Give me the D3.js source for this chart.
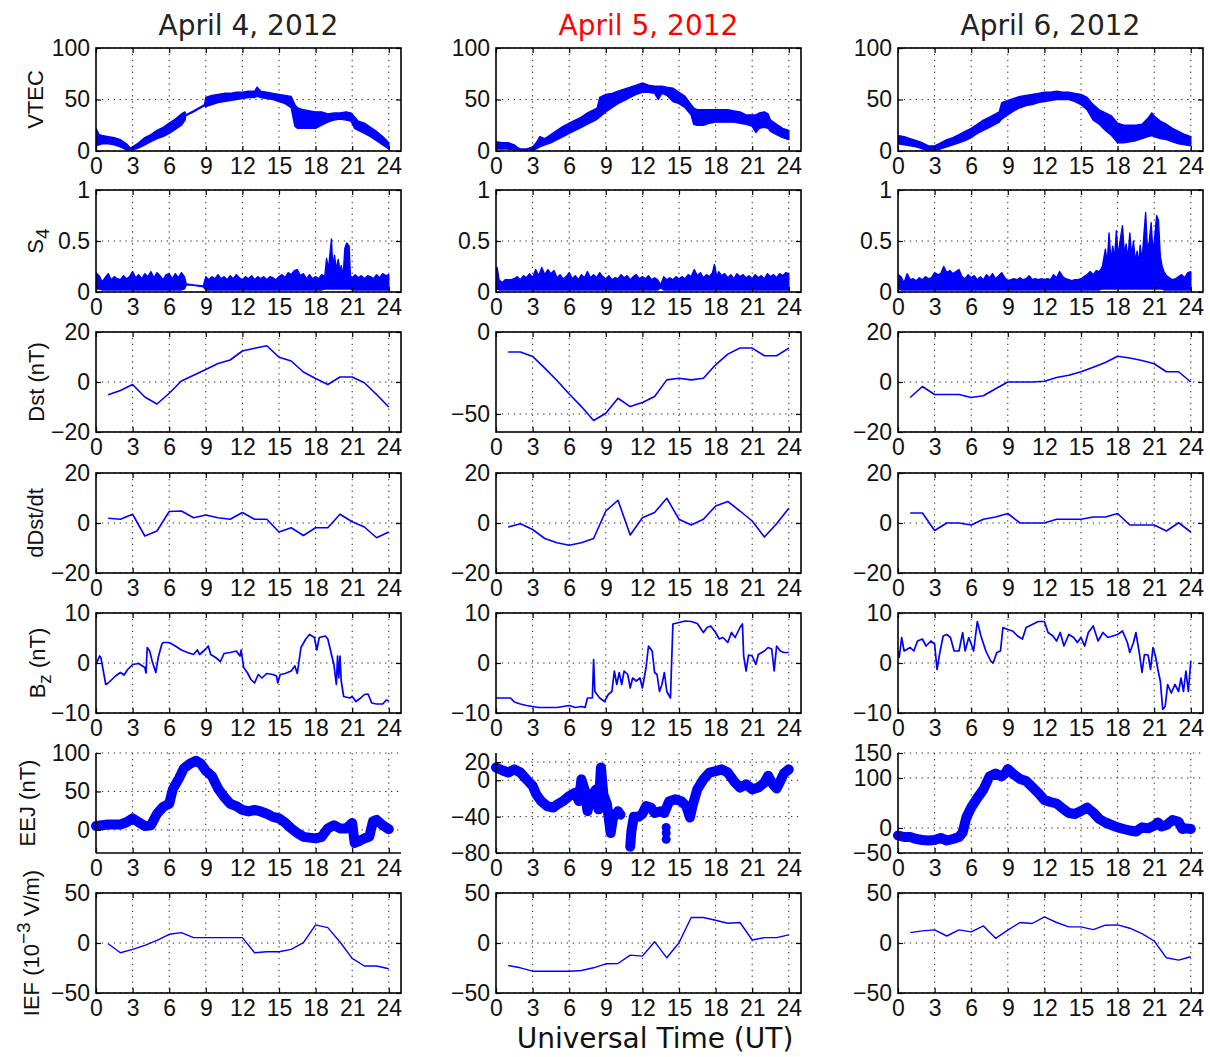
<!DOCTYPE html>
<html><head><meta charset="utf-8">
<script src="https://cdn.jsdelivr.net/npm/d3@7"></script>
<style>body{margin:0;background:#fff}</style>
</head><body>
<svg id="chart" width="1210" height="1057"></svg>
<script>
// ---------- DATA ----------
const days = ["April 4, 2012", "April 5, 2012", "April 6, 2012"];
const dayColors = ["#222222", "#ff0000", "#222222"];
const hourTicks = [0, 3, 6, 9, 12, 15, 18, 21, 24];
const hourly = [1,2,3,4,5,6,7,8,9,10,11,12,13,14,15,16,17,18,19,20,21,22,23,24];

// VTEC band: [UT, low, high]
const vtec4 = [[0,5,22],[0.25,6,16],[0.5,7,15],[1,7,14],[1.5,6,13],[2,4,11],[2.5,1,7],[2.8,0,3],[3,1,4],[3.5,3,8],[4,6,13],[4.5,9,16],[5,12,20],[5.5,14,23],[6,17,27],[6.5,21,31],[7,25,36],[7.3,30,38],[7.35,34,35],[8,38,39],[8.9,44,45],[9,43,52],[9.5,45,54],[10,47,55],[10.5,48,56],[11,49,56],[11.5,50,57],[12,51,57],[12.5,52,58],[13,52,58],[13.2,53,62],[13.5,52,58],[14,51,57],[14.5,50,56],[15,48,55],[15.5,46,54],[16,42,53],[16.3,24,45],[16.5,22,42],[17,22,40],[17.5,22,39],[18,22,38],[18.5,25,38],[19,28,36],[19.5,30,37],[20,31,37],[20.5,30,38],[20.9,29,37],[21.2,22,33],[21.5,20,29],[22,17,27],[22.5,14,23],[23,10,19],[23.5,6,14],[24,2,8]];
const vtec5 = [[0,2,9],[0.5,2,8],[1,2,8],[1.5,1,6],[1.8,0,3],[2,0,2],[2.5,0,2],[3,0,4],[3.3,2,8],[3.6,4,14],[4,6,12],[4.5,8,16],[5,11,20],[5.5,14,24],[6,17,27],[6.5,20,30],[7,23,33],[7.5,26,37],[8,29,40],[8.3,31,42],[8.5,33,52],[9,38,55],[9.5,42,56],[10,46,58],[10.5,49,60],[11,52,62],[11.5,55,64],[12,57,66],[12.5,57,64],[13,56,63],[13.3,50,63],[13.6,56,63],[14,54,62],[14.5,48,61],[15,46,57],[15.5,42,53],[16,35,45],[16.2,26,42],[16.5,25,40],[17,25,40],[17.5,27,40],[18,28,40],[18.5,28,40],[19,28,40],[19.5,28,39],[20,27,38],[20.5,26,35],[21,24,35],[21.3,18,35],[21.6,22,37],[22,23,38],[22.3,22,36],[22.5,19,30],[23,16,26],[23.5,13,22],[24,11,20]];
const vtec6 = [[0,7,15],[0.5,6,14],[1,5,12],[1.5,4,10],[2,2,8],[2.5,0,5],[3,0,5],[3.5,2,8],[4,4,11],[4.5,6,13],[5,8,16],[5.5,10,19],[6,13,22],[6.5,17,26],[7,20,30],[7.5,23,33],[8,26,36],[8.3,28,38],[8.5,31,47],[9,35,49],[9.5,39,51],[10,42,53],[10.5,44,54],[11,45,55],[11.5,47,56],[12,48,57],[12.5,49,57],[13,50,58],[13.5,50,57],[14,50,57],[14.5,48,56],[15,45,55],[15.5,40,52],[16,30,45],[16.5,26,40],[17,20,37],[17.5,15,34],[18,8,27],[18.5,8,25],[19,9,25],[19.5,10,25],[20,12,26],[20.5,14,32],[20.8,15,37],[21,14,34],[21.5,12,29],[22,11,26],[22.5,9,22],[23,7,19],[23.5,6,16],[24,5,14]];

// S4 band: [UT, low, high]
const s4_4 = [[0,0.03,0.19],[0.25,0.03,0.16],[0.5,0.02,0.10],[0.75,0.02,0.14],[1,0.02,0.18],[1.25,0.02,0.12],[1.5,0.02,0.15],[1.75,0.02,0.13],[2,0.02,0.12],[2.25,0.02,0.16],[2.5,0.02,0.13],[2.75,0.02,0.15],[3,0.02,0.20],[3.25,0.02,0.14],[3.5,0.02,0.17],[3.75,0.02,0.13],[4,0.02,0.18],[4.25,0.02,0.15],[4.5,0.02,0.20],[4.75,0.02,0.14],[5,0.02,0.19],[5.25,0.02,0.16],[5.5,0.02,0.12],[5.75,0.02,0.17],[6,0.02,0.18],[6.25,0.02,0.13],[6.5,0.02,0.18],[6.75,0.02,0.14],[7,0.02,0.19],[7.25,0.03,0.15],[7.4,0.07,0.08],[8,0.065,0.07],[8.8,0.05,0.06],[9,0.02,0.15],[9.25,0.02,0.12],[9.5,0.02,0.15],[9.75,0.02,0.13],[10,0.02,0.17],[10.25,0.02,0.13],[10.5,0.02,0.15],[10.75,0.02,0.12],[11,0.02,0.16],[11.25,0.02,0.13],[11.5,0.02,0.17],[11.75,0.02,0.14],[12,0.02,0.12],[12.25,0.02,0.15],[12.5,0.02,0.13],[12.75,0.02,0.16],[13,0.02,0.12],[13.25,0.02,0.15],[13.5,0.02,0.13],[13.75,0.02,0.15],[14,0.02,0.12],[14.25,0.02,0.15],[14.5,0.02,0.14],[14.75,0.02,0.12],[15,0.02,0.15],[15.25,0.02,0.17],[15.5,0.02,0.14],[15.75,0.02,0.19],[16,0.02,0.17],[16.25,0.02,0.21],[16.5,0.02,0.22],[16.75,0.02,0.16],[17,0.02,0.18],[17.25,0.02,0.13],[17.5,0.02,0.17],[17.75,0.02,0.13],[18,0.02,0.15],[18.25,0.02,0.13],[18.5,0.02,0.17],[18.75,0.03,0.15],[18.9,0.03,0.33],[19.05,0.03,0.22],[19.3,0.03,0.52],[19.4,0.03,0.25],[19.55,0.03,0.36],[19.7,0.03,0.22],[19.85,0.03,0.32],[20,0.03,0.20],[20.1,0.03,0.26],[20.25,0.03,0.15],[20.4,0.03,0.43],[20.55,0.03,0.48],[20.75,0.03,0.45],[20.85,0.03,0.16],[21,0.02,0.14],[21.25,0.02,0.17],[21.5,0.02,0.14],[21.75,0.02,0.16],[22,0.02,0.13],[22.25,0.02,0.16],[22.5,0.02,0.15],[22.75,0.02,0.13],[23,0.02,0.17],[23.25,0.02,0.14],[23.5,0.02,0.18],[23.75,0.02,0.16],[24,0.02,0.17]];
const s4_5 = [[0,0.03,0.22],[0.1,0.03,0.24],[0.25,0.02,0.12],[0.5,0.02,0.09],[0.75,0.02,0.12],[1,0.02,0.12],[1.25,0.02,0.12],[1.5,0.02,0.13],[1.75,0.02,0.15],[2,0.02,0.12],[2.25,0.02,0.16],[2.5,0.02,0.14],[2.75,0.02,0.18],[3,0.02,0.14],[3.25,0.02,0.22],[3.5,0.02,0.16],[3.75,0.02,0.24],[4,0.02,0.17],[4.25,0.02,0.22],[4.5,0.02,0.18],[4.75,0.02,0.21],[5,0.02,0.14],[5.25,0.02,0.17],[5.5,0.02,0.13],[5.75,0.02,0.15],[6,0.02,0.19],[6.25,0.02,0.13],[6.5,0.02,0.16],[6.75,0.02,0.12],[7,0.02,0.17],[7.25,0.02,0.14],[7.5,0.02,0.20],[7.75,0.02,0.14],[8,0.02,0.17],[8.25,0.02,0.14],[8.5,0.02,0.19],[8.75,0.02,0.15],[9,0.02,0.13],[9.25,0.02,0.16],[9.5,0.02,0.12],[9.75,0.02,0.14],[10,0.02,0.13],[10.25,0.02,0.17],[10.5,0.02,0.14],[10.75,0.02,0.16],[11,0.02,0.12],[11.25,0.02,0.15],[11.5,0.02,0.17],[11.75,0.02,0.13],[12,0.02,0.15],[12.25,0.02,0.13],[12.5,0.02,0.16],[12.75,0.02,0.12],[13,0.02,0.14],[13.25,0.02,0.12],[13.5,0.04,0.07],[13.75,0.02,0.15],[14,0.02,0.12],[14.25,0.02,0.14],[14.5,0.02,0.12],[14.75,0.02,0.15],[15,0.02,0.13],[15.25,0.02,0.15],[15.5,0.02,0.13],[15.75,0.02,0.17],[16,0.02,0.15],[16.25,0.02,0.22],[16.5,0.02,0.16],[16.75,0.02,0.19],[17,0.02,0.14],[17.25,0.02,0.17],[17.5,0.02,0.15],[17.75,0.02,0.19],[17.9,0.02,0.27],[18.1,0.02,0.15],[18.25,0.02,0.20],[18.5,0.02,0.16],[18.75,0.02,0.18],[19,0.02,0.14],[19.25,0.02,0.17],[19.5,0.02,0.13],[19.75,0.02,0.18],[20,0.02,0.15],[20.25,0.02,0.17],[20.5,0.02,0.14],[20.75,0.02,0.16],[21,0.02,0.13],[21.25,0.02,0.17],[21.5,0.02,0.14],[21.75,0.02,0.16],[22,0.02,0.13],[22.25,0.02,0.18],[22.5,0.02,0.15],[22.75,0.02,0.17],[23,0.02,0.14],[23.25,0.02,0.18],[23.5,0.02,0.16],[23.75,0.02,0.19],[24,0.02,0.18]];
const s4_6 = [[0,0.03,0.17],[0.25,0.02,0.15],[0.5,0.02,0.09],[0.75,0.02,0.18],[1,0.02,0.12],[1.25,0.02,0.13],[1.5,0.02,0.11],[1.75,0.02,0.14],[2,0.02,0.12],[2.25,0.02,0.15],[2.5,0.02,0.13],[2.75,0.02,0.14],[3,0.02,0.19],[3.25,0.02,0.17],[3.5,0.02,0.18],[3.75,0.02,0.25],[4,0.02,0.19],[4.25,0.02,0.21],[4.5,0.02,0.18],[4.75,0.02,0.20],[5,0.02,0.22],[5.25,0.02,0.15],[5.5,0.02,0.13],[5.75,0.02,0.17],[6,0.02,0.14],[6.25,0.02,0.16],[6.5,0.02,0.12],[6.75,0.02,0.15],[7,0.02,0.12],[7.25,0.02,0.17],[7.5,0.02,0.14],[7.75,0.02,0.18],[8,0.02,0.13],[8.25,0.02,0.16],[8.5,0.02,0.19],[8.75,0.02,0.14],[9,0.02,0.11],[9.25,0.02,0.12],[9.5,0.02,0.13],[9.75,0.02,0.12],[10,0.02,0.14],[10.25,0.02,0.12],[10.5,0.02,0.13],[10.75,0.02,0.16],[11,0.02,0.12],[11.25,0.02,0.13],[11.5,0.02,0.12],[11.75,0.02,0.13],[12,0.02,0.12],[12.25,0.02,0.13],[12.5,0.02,0.12],[12.75,0.02,0.17],[13,0.02,0.14],[13.25,0.02,0.20],[13.5,0.02,0.15],[13.75,0.02,0.13],[14,0.02,0.12],[14.25,0.02,0.11],[14.5,0.02,0.12],[14.75,0.02,0.12],[15,0.02,0.13],[15.25,0.02,0.15],[15.5,0.02,0.17],[15.75,0.02,0.20],[16,0.02,0.17],[16.25,0.02,0.21],[16.5,0.02,0.20],[16.75,0.03,0.25],[17,0.03,0.42],[17.15,0.03,0.28],[17.3,0.03,0.58],[17.45,0.03,0.30],[17.6,0.03,0.45],[17.75,0.03,0.33],[17.9,0.03,0.60],[18.05,0.03,0.35],[18.2,0.03,0.50],[18.4,0.03,0.65],[18.55,0.03,0.38],[18.7,0.03,0.47],[18.85,0.03,0.32],[19,0.03,0.58],[19.15,0.03,0.35],[19.3,0.03,0.50],[19.45,0.03,0.30],[19.6,0.03,0.40],[19.75,0.03,0.28],[19.85,0.03,0.46],[20,0.03,0.30],[20.15,0.03,0.55],[20.3,0.03,0.78],[20.45,0.03,0.40],[20.6,0.03,0.50],[20.75,0.03,0.68],[20.9,0.03,0.38],[21.05,0.03,0.55],[21.2,0.03,0.75],[21.35,0.03,0.70],[21.5,0.03,0.35],[21.65,0.03,0.25],[21.8,0.02,0.20],[22,0.02,0.16],[22.25,0.02,0.14],[22.5,0.02,0.12],[22.75,0.02,0.13],[23,0.02,0.15],[23.25,0.02,0.17],[23.5,0.02,0.14],[23.75,0.02,0.19],[24,0.02,0.20]];

// Hourly Dst (nT), dDst/dt, IEF (10^-3 V/m) at UT = hourly
const dst4 = [-5.1,-3.4,-1,-6,-8.8,-4.5,0.4,2.7,5,7.4,8.8,12.4,13.5,14.5,9.9,8.4,4,1.4,-1,2,2,-0.3,-5,-10];
const dst5 = [-12.2,-12.2,-14.9,-22,-29.6,-37.8,-45.5,-54,-49.6,-40.4,-45.5,-43,-39.4,-29.2,-28.2,-29.2,-28.2,-20,-13.5,-9.8,-9.8,-14.5,-14.5,-9.8];
const dst6 = [-6.2,-1.8,-5,-5,-5,-6.2,-5.5,-2.7,0,0,0,0.3,1.8,2.7,4.1,5.9,7.8,10.3,9.6,8.6,7.3,4.1,4.1,0];
const ddst4 = [1.9,1.5,3.5,-5.2,-3.2,4.6,4.8,2.1,3.2,2.1,1.5,4.2,1.5,1.5,-3.6,-1.9,-5,-1.9,-1.9,3.5,0.5,-1.6,-5.9,-3.6];
const ddst5 = [-1.6,-0.3,-2.6,-6.2,-7.9,-8.9,-7.9,-6.2,4.8,9.1,-4.8,2.1,4.2,9.9,1.5,-0.8,1.5,6.8,8.6,4.8,0.8,-5.6,-0.3,5.9];
const ddst6 = [4,4,-3,0,0,-0.8,1.5,2.4,3.8,0,0,0,1.5,1.5,1.5,2.4,2.4,3.8,-0.8,-0.8,-0.8,-3.2,0.1,-3.6];
const ief4 = [-0.7,-9.7,-6.4,-2.3,2.7,8.7,10.4,5.4,5.4,5.4,5.4,5.4,-9.7,-8.7,-8.7,-6.4,0.3,18.1,15.4,1,-15.4,-23,-23,-25.8];
const ief5 = [-22.5,-24.8,-28.2,-28.2,-28.2,-28.2,-27.5,-24.8,-20.8,-20.5,-12.1,-13.1,1.3,-14.8,0.3,25.5,25.5,22.8,19.8,20.5,3,5.4,5.4,8.1];
const ief6 = [10.4,12.1,13.1,7,13.1,11.1,17.1,4.7,12.8,20.5,19.5,26.2,20.5,16.1,16.1,13.4,17.8,18.1,14.8,9.4,2,-14.8,-17.1,-13.8];

// Bz (nT): [UT, value]
const bz4 = [[0,-0.3],[0.3,1.4],[0.4,1.1],[0.6,-1.6],[0.8,-4.3],[1.0,-4.0],[1.3,-3.3],[1.6,-2.6],[2,-1.9],[2.3,-2.4],[2.6,-1.3],[3,-0.3],[3.5,-0.1],[4,-0.9],[4.1,-2],[4.2,3.1],[4.4,2.4],[4.6,0.4],[4.9,-1.9],[5.1,1.1],[5.4,3.8],[5.5,4.1],[6,4.1],[6.5,3.4],[7,2.6],[7.5,2.1],[8,1.7],[8.3,2.6],[8.5,1.7],[9,2.8],[9.2,3.4],[9.4,1.7],[9.8,1.1],[10.2,0.3],[10.5,1.9],[11,2.1],[11.5,2.4],[11.8,1.4],[11.9,2.6],[12.1,-0.9],[12.4,-1.9],[12.7,-3.3],[13,-4],[13.3,-2.3],[13.6,-3],[14,-2.1],[14.5,-2.3],[14.8,-2.6],[14.9,-4],[15.1,-2.3],[15.5,-2.1],[16,-1.6],[16.3,-0.6],[16.5,-2.1],[16.8,3.1],[17.2,4.8],[17.5,5.7],[17.9,5.1],[18.1,2.6],[18.3,5.1],[18.8,5.4],[19,4.8],[19.3,1.7],[19.5,-0.3],[19.7,-4.3],[19.8,1.4],[19.9,-3],[20.0,1.4],[20.1,-3.6],[20.3,-6.7],[20.8,-7],[21,-6.7],[21.3,-7.7],[21.7,-7],[22,-6.3],[22.3,-6.2],[22.6,-8],[23,-8.2],[23.5,-8.2],[23.8,-7.4],[24,-7.6]];
const bz5 = [[0,-7],[0.5,-7],[1.2,-7],[1.5,-7.8],[2,-8.2],[2.5,-8.5],[3,-8.7],[3.5,-8.9],[4,-8.9],[5,-8.9],[5.5,-8.7],[6,-8.5],[6.5,-8.9],[7,-8.7],[7.3,-8.9],[7.5,-7],[7.9,-7],[8.0,0.7],[8.1,-5.7],[8.5,-7],[8.9,-7.7],[9.2,-6.3],[9.5,-5.7],[9.7,-1.6],[9.9,-4.3],[10.1,-1.9],[10.3,-4.3],[10.5,-1.6],[10.8,-2.3],[11,-5],[11.2,-3],[11.5,-3.6],[11.8,-3],[12,-5],[12.3,-0.9],[12.5,3.4],[12.8,2.4],[13,-1.9],[13.2,-2.3],[13.4,-5.7],[13.6,-4.3],[13.8,-1.9],[14.0,-5.7],[14.3,-7],[14.5,7.8],[15,8.1],[15.5,8.4],[16,8.3],[16.5,7.9],[17,6.1],[17.3,7.1],[17.6,7.4],[18,6.1],[18.3,4.8],[18.6,5.1],[19,4.1],[19.3,6.1],[19.6,5.1],[20,7.1],[20.2,7.8],[20.3,1.4],[20.5,-1.6],[20.7,1.6],[21,1.4],[21.3,-0.3],[21.5,1.7],[22,2.4],[22.3,3.1],[22.6,2.8],[22.8,-1.6],[23,3.4],[23.3,2.4],[23.6,2.1],[24,2.1]];
const bz6 = [[0,2.4],[0.1,1.1],[0.3,5.1],[0.5,2.4],[1,3.1],[1.3,2.4],[1.6,4.4],[2,4.8],[2.3,3.4],[2.7,4.4],[3,3.8],[3.2,-1.3],[3.4,1.7],[3.7,5.4],[4,5.7],[4.3,5.1],[4.6,2.4],[5,2.4],[5.3,6.1],[5.5,2.4],[5.8,5.1],[6.0,3.8],[6.2,2.4],[6.5,8.3],[6.8,5.4],[7.2,2.4],[7.6,0.4],[7.8,0],[8.1,2.1],[8.4,2.4],[8.6,7.1],[9,6.7],[9.4,6.4],[9.8,5.4],[10.2,4.8],[10.5,7.1],[11,7.7],[11.5,8.3],[12,8.3],[12.3,6.1],[12.7,5.4],[13,4.4],[13.3,6.1],[13.6,3.4],[14,5.7],[14.4,5.1],[14.7,4.1],[15,5.1],[15.3,3.4],[15.6,6.1],[16,7.4],[16.4,4.4],[16.8,6.1],[17.2,5.1],[17.6,5.4],[18,5.7],[18.4,6.4],[18.8,4.1],[19,2.1],[19.3,4.1],[19.5,6.1],[19.8,1.7],[20,-1.9],[20.2,1.7],[20.5,1.6],[20.7,-1.3],[20.9,3.1],[21.1,1.4],[21.3,-1.3],[21.5,-3.6],[21.7,-9.3],[21.9,-8.7],[22.1,-4.3],[22.4,-6],[22.7,-4.3],[23,-5.7],[23.2,-3],[23.4,-5.7],[23.6,-1.6],[23.8,-5.7],[24,0.4]];

// EEJ (nT): [UT, value]; null = data gap
const eej4 = [[0,5],[0.5,6],[1,7],[1.5,7],[2,7],[2.5,10],[3,15],[3.5,10],[4,5],[4.5,6],[5,21],[5.5,30],[6,34],[6.3,53],[6.8,67],[7.2,80],[7.7,86],[8.2,90],[8.6,86],[9,77],[9.5,70],[10,54],[10.5,43],[11,34],[11.5,31],[12,26],[12.5,24],[13,26],[13.5,24],[14,21],[14.5,17],[15,15],[15.5,9.5],[16,2],[16.5,-4],[17,-9],[17.5,-10],[18,-11],[18.5,-9],[19,2],[19.5,6],[20,2],[20.5,2],[21,9],[21.2,-17],[21.5,-15],[22,-11],[22.4,-9],[22.7,11],[23,13],[23.5,6],[24,1]];
const eej5 = [[0,14],[0.5,11],[1,8.5],[1.5,12],[2,8.5],[2.5,1],[3,-6],[3.3,-15.5],[3.7,-23],[4.2,-28.5],[4.7,-30],[5,-26.7],[5.5,-23],[6,-17.4],[6.5,-13.7],[6.8,-23],[7.0,1],[7.3,-12],[7.5,-34],[7.8,-17.4],[8.2,-10],[8.4,-32],[8.6,14],[8.8,-15.5],[9.1,-26.7],[9.4,-58],[9.6,-41],[10,-34],[10.2,-37.8],null,[11.0,-73],[11.1,-56],[11.3,-40],[11.7,-40],[12,-37],[12.3,-28.5],[12.7,-30],[13,-36],[13.5,-34],[13.8,-36],[14.2,-23],[14.7,-21],[15.2,-23],[15.6,-28.5],[15.9,-41],[16.1,-28.5],[16.5,-10],[17,1],[17.5,8.5],[18,10],[18.5,12],[19,8.5],[19.5,-1],[20,-8],[20.5,-4.5],[21,-10],[21.5,-8],[22,-2.6],[22.3,5],[22.7,-4.5],[23,-9],[23.3,-1],[23.6,7.5],[24,12]];
const eej5Isolated = [[13.95,-52],[13.95,-58],[13.95,-65]];
const eej6 = [[0,-15],[0.5,-18],[1,-18],[1.5,-22],[2,-24],[2.5,-25],[3,-24],[3.5,-20],[4,-25],[4.5,-22],[5,-18],[5.3,-9],[5.6,21],[6,41],[6.5,60],[7,77],[7.5,103],[8,109],[8.5,103],[8.8,110],[9,118],[9.5,107],[10,98],[10.5,94],[11,82],[11.5,70],[12,56],[12.5,52],[13,49],[13.5,39],[14,30],[14.5,28],[15,34],[15.5,41],[16,31],[16.5,18],[17,11],[17.5,6],[18,1.3],[18.5,-2],[19,-5],[19.5,-7],[20,1.3],[20.5,-0.7],[21,4.6],[21.3,11],[21.6,3],[22,6],[22.5,16],[23,12.5],[23.3,-2],[23.6,-0.7],[24,-2]];

// Axis limits and tick values per row / column
const vtecDomain = [0, 100], vtecTicks = [0, 50, 100];
const s4Domain = [0, 1], s4Ticks = [0, 0.5, 1];
const dstDomains = [[-20, 20], [-61, 0], [-20, 20]];
const dstTicks = [[-20, 0, 20], [-50, 0], [-20, 0, 20]];
const ddstDomain = [-20, 20], ddstTicks = [-20, 0, 20];
const bzDomain = [-10, 10], bzTicks = [-10, 0, 10];
const eejDomains = [[-30, 100], [-80, 30], [-50, 150]];
const eejTicks = [[0, 50, 100], [-80, -40, 0, 20], [-50, 0, 100, 150]];
const iefDomain = [-50, 50], iefTicks = [-50, 0, 50];

// ---------- LAYOUT ----------
const svg = d3.select("#chart");
const BLUE = "#0000ff";
const tickFont = "'Liberation Sans', Arial, Helvetica, sans-serif";
const titleFont = "'DejaVu Sans', sans-serif";
const colLeft = [96, 496, 898];
const plotW = 305;
const rowTop = [48, 190, 332, 473, 613, 753, 893];
const rowH = [103, 102, 100, 100, 100, 100, 100];
const fmt = v => (v < 0 ? "\u2212" : "") + Math.abs(v);

const hourPairs = arr => arr.map((v, i) => [hourly[i], v]);

function panel(r, c, spec) {
  const x0 = colLeft[c], y0 = rowTop[r], h = rowH[r];
  const x = d3.scaleLinear().domain([0, 25]).range([x0, x0 + plotW]);
  const y = d3.scaleLinear().domain(spec.domain).range([y0 + h, y0]);
  const g = svg.append("g");
  const clipId = "clip" + r + "_" + c;
  g.append("clipPath").attr("id", clipId).append("rect")
    .attr("x", x0).attr("y", y0).attr("width", plotW).attr("height", h);

  // grid
  const grid = g.append("g").attr("stroke", "#222").attr("stroke-width", 1)
    .attr("stroke-dasharray", "1.3,4.6");
  grid.selectAll(null).data(hourTicks.filter(t => t > 0)).join("line")
    .attr("x1", d => x(d)).attr("x2", d => x(d)).attr("y1", y0).attr("y2", y0 + h);
  grid.selectAll(null).data(spec.ticks).join("line")
    .attr("x1", x0).attr("x2", x0 + plotW).attr("y1", d => y(d)).attr("y2", d => y(d));

  // data
  const dg = g.append("g");
  if (spec.type !== "thick") dg.attr("clip-path", "url(#" + clipId + ")");
  if (spec.type === "band") {
    const area = d3.area().x(d => x(d[0])).y0(d => y(d[1])).y1(d => y(d[2]));
    dg.append("path").attr("d", area(spec.data)).attr("fill", BLUE)
      .attr("stroke", BLUE).attr("stroke-width", 1.4).attr("stroke-linejoin", "round");
  } else if (spec.type === "line") {
    const line = d3.line().x(d => x(d[0])).y(d => y(d[1]));
    dg.append("path").attr("d", line(spec.data)).attr("fill", "none")
      .attr("stroke", BLUE).attr("stroke-width", spec.width || 1.6).attr("stroke-linejoin", "round");
  } else if (spec.type === "thick") {
    const line = d3.line().defined(d => d !== null).x(d => x(d[0])).y(d => y(d[1]));
    dg.append("path").attr("d", line(spec.data)).attr("fill", "none")
      .attr("stroke", BLUE).attr("stroke-width", 10)
      .attr("stroke-linejoin", "round").attr("stroke-linecap", "round");
    if (spec.dots) dg.selectAll(null).data(spec.dots).join("circle")
      .attr("cx", d => x(d[0])).attr("cy", d => y(d[1])).attr("r", 4.5).attr("fill", BLUE);
  }

  // frame
  const fr = g.append("g").attr("stroke", "#000").attr("stroke-width", 1.6).attr("fill", "none");
  if (spec.box) {
    fr.append("rect").attr("x", x0).attr("y", y0).attr("width", plotW).attr("height", h);
  } else {
    fr.append("line").attr("x1", x0).attr("x2", x0).attr("y1", y0).attr("y2", y0 + h);
    fr.append("line").attr("x1", x0).attr("x2", x0 + plotW).attr("y1", y0 + h).attr("y2", y0 + h);
  }

  // axes (inward ticks)
  const styleAxis = sel => {
    sel.select(".domain").remove();
    sel.selectAll("line").attr("stroke", "#000").attr("stroke-width", 1.2);
    sel.selectAll("text").attr("fill", "#111");
    sel.attr("font-size", 23).attr("font-family", tickFont);
  };
  g.append("g").attr("transform", `translate(0,${y0 + h})`)
    .call(d3.axisBottom(x).tickValues(hourTicks).tickSizeInner(-5).tickSizeOuter(0).tickPadding(7).tickFormat(fmt))
    .call(styleAxis);
  g.append("g").attr("transform", `translate(${x0},0)`)
    .call(d3.axisLeft(y).tickValues(spec.ticks).tickSizeInner(-5).tickSizeOuter(0).tickPadding(6).tickFormat(fmt))
    .call(styleAxis);
  if (spec.box) {
    g.append("g").attr("transform", `translate(0,${y0})`)
      .call(d3.axisTop(x).tickValues(hourTicks).tickSizeInner(-5).tickSizeOuter(0).tickFormat(""))
      .call(styleAxis);
    g.append("g").attr("transform", `translate(${x0 + plotW},0)`)
      .call(d3.axisRight(y).tickValues(spec.ticks).tickSizeInner(-5).tickSizeOuter(0).tickFormat(""))
      .call(styleAxis);
  }
}

const rowsSpec = [
  c => ({type: "band", box: true, domain: vtecDomain, ticks: vtecTicks, data: [vtec4, vtec5, vtec6][c]}),
  c => ({type: "band", box: true, domain: s4Domain, ticks: s4Ticks, data: [s4_4, s4_5, s4_6][c]}),
  c => ({type: "line", box: true, domain: dstDomains[c], ticks: dstTicks[c], data: hourPairs([dst4, dst5, dst6][c])}),
  c => ({type: "line", box: true, domain: ddstDomain, ticks: ddstTicks, data: hourPairs([ddst4, ddst5, ddst6][c])}),
  c => ({type: "line", box: true, domain: bzDomain, ticks: bzTicks, data: [bz4, bz5, bz6][c], width: 1.7}),
  c => ({type: "thick", box: false, domain: eejDomains[c], ticks: eejTicks[c], data: [eej4, eej5, eej6][c], dots: c === 1 ? eej5Isolated : null}),
  c => ({type: "line", box: true, domain: iefDomain, ticks: iefTicks, data: hourPairs([ief4, ief5, ief6][c]), width: 1.4}),
];

rowsSpec.forEach((f, r) => [0, 1, 2].forEach(c => panel(r, c, f(c))));

// titles
days.forEach((d, c) => {
  svg.append("text").attr("x", colLeft[c] + plotW / 2).attr("y", 35)
    .attr("text-anchor", "middle").attr("font-family", titleFont).attr("font-size", 28)
    .attr("fill", dayColors[c]).text(d);
});

// y labels (left column only)
const yLabels = [
  {parts: [["VTEC", 0]], x: 43},
  {parts: [["S", 0], ["4", 6]], x: 43},
  {parts: [["Dst (nT)", 0]], x: 44},
  {parts: [["dDst/dt", 0]], x: 43},
  {parts: [["B", 0], ["z", 6], [" (nT)", 0]], x: 45},
  {parts: [["EEJ (nT)", 0]], x: 35},
  {parts: [["IEF (10", 0], ["\u22123", -9], [" V/m)", 0]], x: 39},
];
yLabels.forEach((l, r) => {
  const cy = rowTop[r] + rowH[r] / 2;
  const t = svg.append("text").attr("transform", `translate(${l.x},${cy}) rotate(-90)`)
    .attr("text-anchor", "middle").attr("font-family", tickFont).attr("font-size", 22).attr("fill", "#111");
  let prev = 0;
  l.parts.forEach(([s, shift]) => {
    t.append("tspan").attr("dy", shift - prev).attr("font-size", shift !== 0 ? 19 : 22).text(s);
    prev = shift;
  });
});

// x label
svg.append("text").attr("x", 655).attr("y", 1048).attr("text-anchor", "middle")
  .attr("font-family", titleFont).attr("font-size", 28).attr("fill", "#111").text("Universal Time (UT)");
</script>
</body></html>
